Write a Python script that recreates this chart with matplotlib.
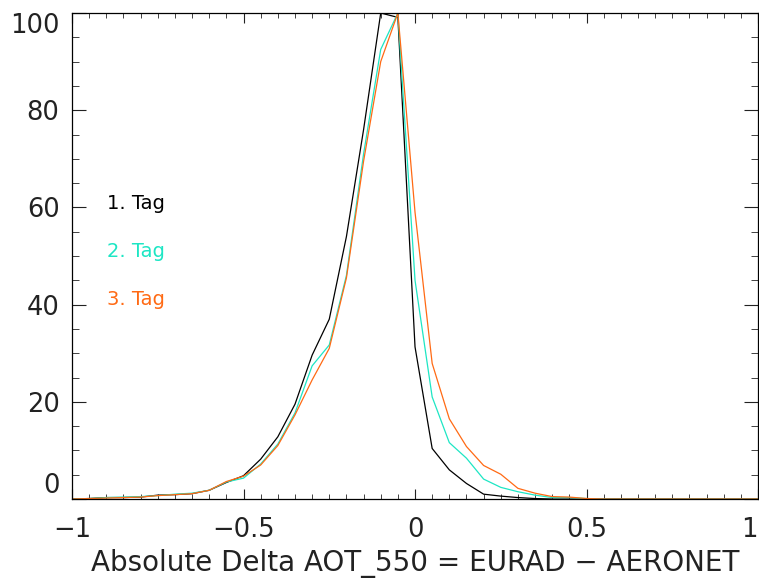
import matplotlib
matplotlib.use('Agg')
import matplotlib.pyplot as plt
from matplotlib.ticker import MultipleLocator

# bin centres of the AOT difference
delta = [-1.00, -0.95, -0.90, -0.85, -0.80, -0.75, -0.70, -0.65, -0.60, -0.55,
         -0.50, -0.45, -0.40, -0.35, -0.30, -0.25, -0.20, -0.15, -0.10, -0.05,
         0.00, 0.05, 0.10, 0.15, 0.20, 0.25, 0.30, 0.35, 0.40, 0.45,
         0.50, 0.55, 0.60, 0.65, 0.70, 0.75, 0.80, 0.85, 0.90, 0.95, 1.00]

# normalised frequency (max = 100) per forecast day
tag1 = [0.0, 0.1, 0.3, 0.3, 0.4, 0.8, 0.9, 1.1, 1.8, 3.4,
        4.8, 8.2, 12.8, 19.5, 29.6, 37.0, 54.0, 76.0, 100.0, 99.1,
        31.3, 10.4, 6.0, 3.2, 1.0, 0.6, 0.3, 0.1, 0.0, 0.0,
        0.0, 0.0, 0.0, 0.0, 0.0, 0.0, 0.0, 0.0, 0.0, 0.0, 0.0]
tag2 = [0.0, 0.1, 0.3, 0.4, 0.5, 0.7, 1.0, 1.2, 1.8, 3.5,
        4.3, 7.2, 11.3, 17.7, 27.4, 31.7, 46.0, 71.0, 92.5, 100.0,
        45.0, 21.0, 11.6, 8.4, 4.1, 2.4, 1.5, 0.8, 0.3, 0.3,
        0.1, 0.0, 0.0, 0.0, 0.0, 0.0, 0.0, 0.0, 0.0, 0.0, 0.0]
tag3 = [0.0, 0.1, 0.2, 0.3, 0.4, 0.7, 0.9, 1.1, 1.8, 3.6,
        4.7, 7.0, 11.0, 17.3, 24.5, 31.0, 45.5, 69.5, 90.0, 100.0,
        59.0, 27.9, 16.5, 10.8, 6.9, 5.1, 2.2, 1.2, 0.5, 0.4,
        0.1, 0.0, 0.0, 0.0, 0.0, 0.0, 0.0, 0.0, 0.0, 0.0, 0.0]

labels = ['1. Tag', '2. Tag', '3. Tag']
colors = ['black', '#1de6c4', '#ff6a14']

fig = plt.figure(figsize=(7.59, 5.81), dpi=100)
ax = fig.add_axes([0.0949, 0.1411, 0.9038, 0.8365])

for y, c in zip([tag1, tag2, tag3], colors):
    ax.plot(delta, y, color=c, linewidth=0.9)

ax.set_xlim(-1, 1)
ax.set_ylim(0, 100)
ax.xaxis.set_major_locator(MultipleLocator(0.5))
ax.xaxis.set_minor_locator(MultipleLocator(0.05))
ax.yaxis.set_major_locator(MultipleLocator(20))
ax.yaxis.set_minor_locator(MultipleLocator(5))

ax.tick_params(which='both', direction='in', top=True, right=True,
               labelsize=18.5, colors='#222222')
ax.tick_params(axis='x', which='major', length=7, pad=13)
ax.tick_params(axis='x', which='minor', length=3.6)
ax.tick_params(axis='y', which='major', length=10, pad=9)
ax.tick_params(axis='y', which='minor', length=5)
for s in ax.spines.values():
    s.set_linewidth(0.9)

ax.set_xticks([-1, -0.5, 0, 0.5, 1])
ax.set_xticklabels(['\u22121', '\u22120.5', '0', '0.5', '1'])
ax.get_xticklabels()[-1].set_ha('right')
ax.set_yticks([0, 20, 40, 60, 80, 100])
ax.set_yticklabels(['0', '20', '40', '60', '80', '100'])
ylab = ax.get_yticklabels()
ylab[0].set_va('bottom')
ylab[-1].set_va('top')

ax.set_xlabel('Absolute Delta AOT_550 = EURAD \u2212 AERONET', fontsize=20,
              color='#222222', labelpad=4)

for i, (lab, c) in enumerate(zip(labels, colors)):
    ax.text(0.051, 0.609 - i * 0.099, lab, color=c, fontsize=14,
            transform=ax.transAxes, va='center', ha='left')

fig.savefig('out.png', dpi=100)
